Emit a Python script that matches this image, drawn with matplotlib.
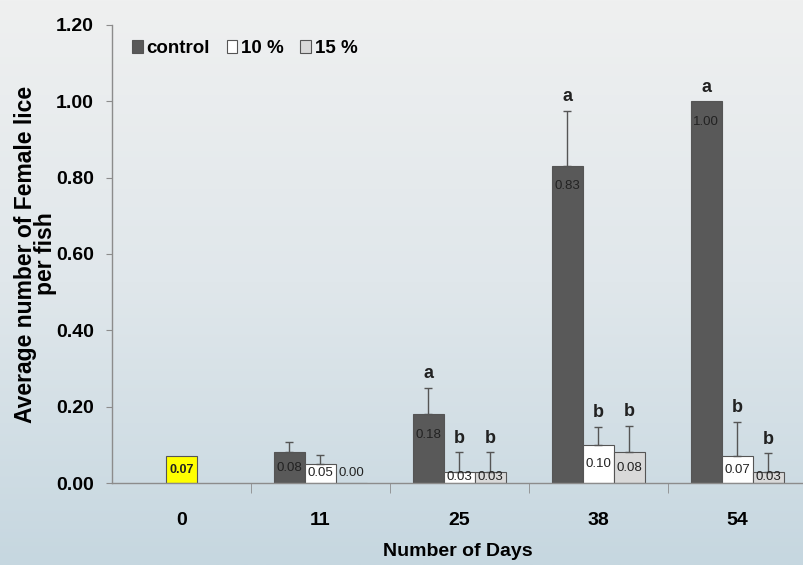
import numpy as np
import matplotlib
matplotlib.use('Agg')
import matplotlib.pyplot as plt
from matplotlib.colors import LinearSegmentedColormap
from matplotlib.ticker import FormatStrFormatter, FixedLocator

NARROW = ['Liberation Sans Narrow', 'Liberation Sans', 'DejaVu Sans']
WIDE = ['Liberation Sans', 'DejaVu Sans']

# ---------------- data ----------------
days = ['0', '11', '25', '38', '54']
day0_value = 0.07
control = [np.nan, 0.08, 0.18, 0.83, 1.00]
pct10 = [np.nan, 0.05, 0.03, 0.10, 0.07]
pct15 = [np.nan, 0.00, 0.03, 0.08, 0.03]
err_control = [0, 0.027, 0.07, 0.145, 0]
err_pct10 = [0, 0.023, 0.05, 0.047, 0.09]
err_pct15 = [0, 0, 0.05, 0.07, 0.048]
sig_control = ['', '', 'a', 'a', 'a']
sig_pct10 = ['', '', 'b', 'b', 'b']
sig_pct15 = ['', '', 'b', 'b', 'b']

fig = plt.figure(figsize=(8.04, 5.65), dpi=100)

# background (water-like gradient)
bg = fig.add_axes([0, 0, 1, 1], zorder=-10)
cmap = LinearSegmentedColormap.from_list('bg', ['#eff0f0', '#e0e7eb', '#c6d7e0'])
grad = np.linspace(0, 1, 256).reshape(-1, 1)
bg.imshow(grad, aspect='auto', cmap=cmap, extent=[0, 1, 0, 1], origin='upper')
bg.axis('off')

ax = fig.add_axes([0.1393, 0.1451, 0.8607, 0.8107])
ax.patch.set_alpha(0)

w = 0.223
x = np.arange(len(days))
series = [
    (control, err_control, sig_control, '#595959', -w, 'control'),
    (pct10, err_pct10, sig_pct10, '#ffffff', 0, '10 %'),
    (pct15, err_pct15, sig_pct15, '#d9d9d9', w, '15 %'),
]

ek = dict(ecolor='#555555', elinewidth=1, capsize=3, capthick=1)
for vals, errs, sigs, col, off, lab in series:
    vals = np.array(vals)
    errs = np.array(errs)
    ax.bar(x[1:] + off, vals[1:], w, color=col, edgecolor='#555555',
           linewidth=0.8, label=lab, zorder=2)
    show = errs[1:] > 0
    ax.errorbar((x[1:] + off)[show], vals[1:][show],
                yerr=[np.zeros(show.sum()), errs[1:][show]], fmt='none', zorder=3, **ek)
    for i in range(1, len(days)):
        v = vals[i]
        ty = max(v / 2, v - 0.053) if v > 0 else 0.026
        ax.text(x[i] + off, ty, f'{v:.2f}', ha='center', va='center',
                fontsize=9.5, family=NARROW, color='#222222', zorder=4)
        if sigs[i]:
            ax.annotate(sigs[i], (x[i] + off, v + errs[i]), xytext=(0, 4),
                        textcoords='offset points', ha='center', va='bottom',
                        fontsize=13, fontweight='bold', family=NARROW, color='#222222')

# day 0 starting value
ax.bar(x[0], day0_value, w, color='#ffff00', edgecolor='#555555', linewidth=0.8, zorder=2)
ax.text(x[0], day0_value / 2, f'{day0_value:.2f}', ha='center', va='center',
        fontsize=9, fontweight='bold', family=NARROW, color='#222222', zorder=4)

ax.set_xlim(-0.5, 4.48)
ax.set_ylim(0, 1.2)
ax.set_yticks(np.arange(0, 1.21, 0.2))
ax.yaxis.set_major_formatter(FormatStrFormatter('%.2f'))
ax.set_xticks(x)
ax.set_xticklabels(days)
ax.xaxis.set_minor_locator(FixedLocator(np.arange(0.5, 4.0, 1.0)))

for s in ['top', 'right']:
    ax.spines[s].set_visible(False)
for s in ['left', 'bottom']:
    ax.spines[s].set_color('#8c8c8c')
    ax.spines[s].set_linewidth(1)

ax.tick_params(axis='x', which='major', length=0, pad=21)
ax.tick_params(axis='x', which='minor', length=7, color='#8c8c8c', direction='out')
ax.tick_params(axis='y', length=4, color='#8c8c8c', pad=9)
for t in ax.get_xticklabels() + ax.get_yticklabels():
    t.set_family(NARROW)
    t.set_fontweight('bold')
    t.set_fontsize(14)

ax.set_xlabel('Number of Days', family=NARROW, fontweight='bold', fontsize=14, labelpad=10)
ax.set_ylabel('Average number of Female lice\nper fish', family=WIDE, fontweight='bold',
              fontsize=16.5, labelpad=-1, linespacing=0.88)

leg = ax.legend(loc='upper left', bbox_to_anchor=(0.005, 1.005), ncol=3, frameon=False,
                handlelength=0.55, handleheight=0.7, handletextpad=0.2, columnspacing=0.9,
                prop={'family': NARROW, 'weight': 'bold', 'size': 13.5})

fig.savefig('out.png', dpi=100)
